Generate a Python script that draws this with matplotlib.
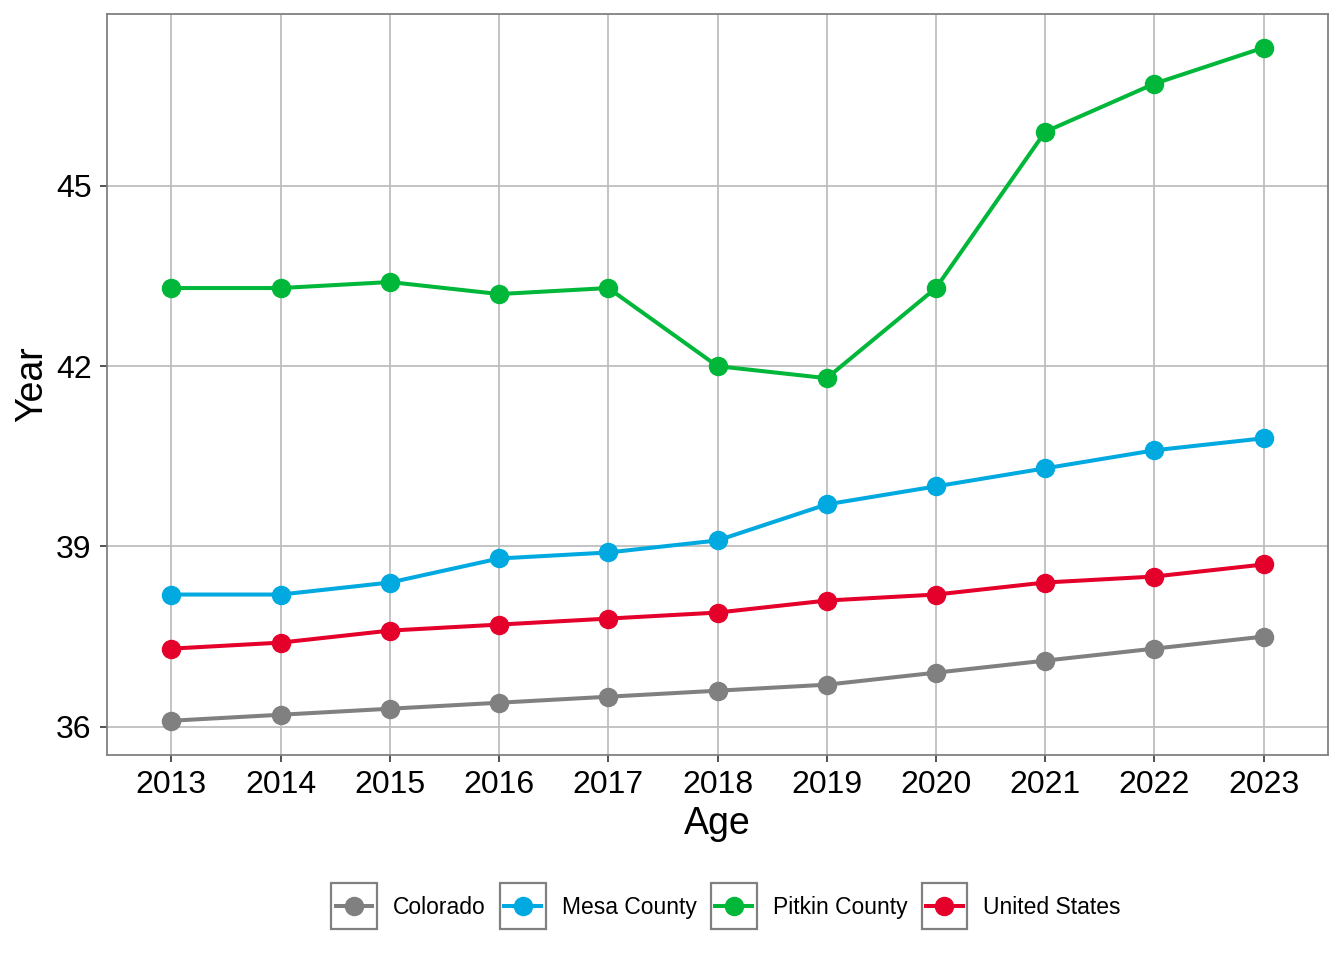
import matplotlib
matplotlib.use("Agg")
import matplotlib.pyplot as plt
from matplotlib.legend_handler import HandlerLine2D
from matplotlib.patches import Rectangle

plt.rcParams['font.family'] = ['Liberation Sans', 'DejaVu Sans']

# datos
years = [2013, 2014, 2015, 2016, 2017, 2018, 2019, 2020, 2021, 2022, 2023]
colorado = [36.1, 36.2, 36.3, 36.4, 36.5, 36.6, 36.7, 36.9, 37.1, 37.3, 37.5]
mesa = [38.2, 38.2, 38.4, 38.8, 38.9, 39.1, 39.7, 40.0, 40.3, 40.6, 40.8]
pitkin = [43.3, 43.3, 43.4, 43.2, 43.3, 42.0, 41.8, 43.3, 45.9, 46.7, 47.3]
usa = [37.3, 37.4, 37.6, 37.7, 37.8, 37.9, 38.1, 38.2, 38.4, 38.5, 38.7]

series = ['Colorado', 'Mesa County', 'Pitkin County', 'United States']
colores = ['#808080', '#00A9E0', '#00B73A', '#E4002B']
y_ticks = [36, 39, 42, 45]


class BoxedHandler(HandlerLine2D):
    """Handler que dibuja un recuadro gris cuadrado alrededor de la clave (estilo ggplot)."""
    bajar = 3.0  # desplazamiento hacia abajo (pt) para centrar con el texto

    def create_artists(self, legend, orig_handle, xdescent, ydescent,
                       width, height, fontsize, trans):
        yd = ydescent + 2 * self.bajar
        p = 0.1 * width  # margen interior de la linea
        artists = super().create_artists(legend, orig_handle, xdescent - p, yd,
                                         width - 2 * p, height, fontsize, trans)
        centro = (height - yd) / 2
        rect = Rectangle((-xdescent, centro - width / 2), width, width,
                         fill=False, edgecolor='#808080', linewidth=1.6,
                         transform=trans)
        return [rect] + list(artists)


fig = plt.figure(figsize=(13.44, 9.6), dpi=100)
ax = fig.add_axes([107 / 1344, 1 - 755 / 960, (1328 - 107) / 1344, (755 - 14) / 960])

lineas = []
for nombre, valores, color in zip(series, [colorado, mesa, pitkin, usa], colores):
    ln, = ax.plot(years, valores, color=color, linewidth=2.9, marker='o',
                  markersize=13, label=nombre, zorder=3)
    lineas.append(ln)

ax.set_xlim(2012.41, 2023.59)
ax.set_ylim(35.53, 47.86)
ax.set_xticks(years)
ax.set_yticks(y_ticks)
ax.grid(True, color='#BEBEBE', linewidth=1.3, zorder=0)
ax.set_axisbelow(True)

for s in ax.spines.values():
    s.set_color('#808080')
    s.set_linewidth(1.3)

ax.tick_params(axis='both', length=5, width=1.2, color='#333333',
               labelsize=23, labelcolor='black')
ax.tick_params(axis='x', pad=6)
ax.tick_params(axis='y', pad=6)

ax.set_xlabel('Age', fontsize=27, labelpad=4)
ax.set_ylabel('Year', fontsize=27, labelpad=4)

leg = fig.legend(handles=lineas, loc='center', bbox_to_anchor=(726 / 1344, 1 - 907 / 960),
                 ncol=4, frameon=False, fontsize=16.5, handlelength=2.0,
                 handleheight=2.0, handletextpad=0.7, columnspacing=0.62,
                 handler_map={matplotlib.lines.Line2D: BoxedHandler(numpoints=1)})

fig.savefig('out.png', dpi=100)
